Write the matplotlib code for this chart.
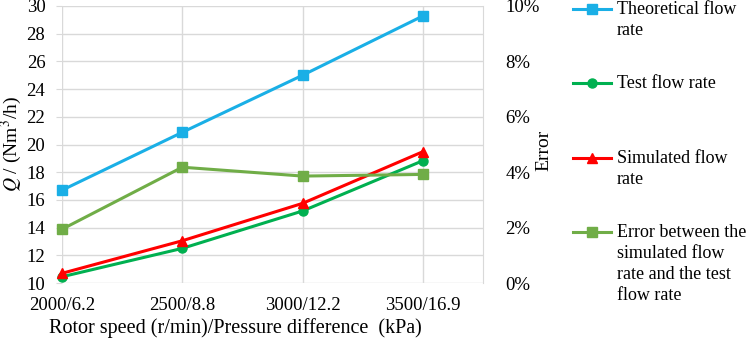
import numpy as np
import matplotlib.pyplot as plt
from matplotlib.lines import Line2D

plt.rcParams['font.family'] = ['Liberation Serif', 'DejaVu Serif']
plt.rcParams['mathtext.fontset'] = 'stix'

# data
categories = ['2000/6.2', '2500/8.8', '3000/12.2', '3500/16.9']
theoretical = [16.7, 20.88, 25.0, 29.28]
test = [10.45, 12.5, 15.2, 18.83]
simulated = [10.7, 13.05, 15.75, 19.48]
error = [1.94, 4.18, 3.86, 3.92]  # percent

c_theo = '#1AAFE6'
c_test = '#00B050'
c_sim = '#FF0000'
c_err = '#70AD47'

fig = plt.figure(figsize=(7.47, 3.43), dpi=100)
ax = fig.add_axes([62/747, 1 - 283/343, (483 - 62)/747, (283 - 6)/343])
x = np.arange(len(categories))

lw = 2.2
ms = 6.5
ax.plot(x, theoretical, color=c_theo, lw=lw, marker='s', ms=ms, zorder=3, clip_on=False)
ax.plot(x, test, color=c_test, lw=lw, marker='o', ms=ms, zorder=3, clip_on=False)
ax.plot(x, simulated, color=c_sim, lw=lw, marker='^', ms=ms + 0.5, zorder=4, clip_on=False)

ax2 = ax.twinx()
ax2.plot(x, error, color=c_err, lw=lw, marker='s', ms=ms, zorder=3, clip_on=False)

ax.set_xlim(0, 3.5)
ax.set_ylim(10, 30)
ax.set_yticks(np.arange(10, 31, 2))
ax.set_xticks(x)
ax.set_xticklabels(categories)
ax2.set_ylim(0, 10)
ax2.set_yticks(np.arange(0, 11, 2))
ax2.set_yticklabels(['%d%%' % v for v in range(0, 11, 2)])

grid_c = '#D9D9D9'
ax.grid(True, color=grid_c, lw=1.0)
ax.set_axisbelow(True)
for a in (ax, ax2):
    for s in a.spines.values():
        s.set_visible(False)
    a.tick_params(length=0, labelsize=13.5)
ax2.spines['right'].set_visible(True)
ax2.spines['right'].set_color(grid_c)
ax.tick_params(axis='x', pad=10)
ax.tick_params(axis='y', length=4, color=grid_c, pad=8)
ax2.tick_params(axis='y', pad=16)

ax.set_xlabel('Rotor speed (r/min)/Pressure difference  (kPa)', fontsize=14.5)
ax.xaxis.set_label_coords((235 - 62) / 421, -0.128)
ax.set_ylabel(r'$Q$ / (Nm$^3$/h)', fontsize=14)
ax.yaxis.set_label_coords(-0.091, 0.50)
ax2.set_ylabel('Error', fontsize=14)
ax2.yaxis.set_label_coords((535 - 62) / 421, 0.48)

# legend drawn by hand so the handle sits on the first text line
labels = ['Theoretical flow\nrate', 'Test flow rate', 'Simulated flow\nrate',
          'Error between the\nsimulated flow\nrate and the test\nflow rate']
colors = [c_theo, c_test, c_sim, c_err]
markers = ['s', 'o', '^', 's']
for i, (lab, col, mk) in enumerate(zip(labels, colors, markers)):
    yy = 1 - (9 + 74.3 * i) / 343
    fig.add_artist(Line2D([573/747, 611/747], [yy, yy], color=col, lw=lw,
                          transform=fig.transFigure))
    fig.add_artist(Line2D([592/747], [yy], color=col, marker=mk, ms=ms,
                          transform=fig.transFigure))
    fig.text(617/747, yy + 8/343, lab, fontsize=13, va='top', ha='left',
             linespacing=1.3)

fig.savefig('out.png', dpi=100)
